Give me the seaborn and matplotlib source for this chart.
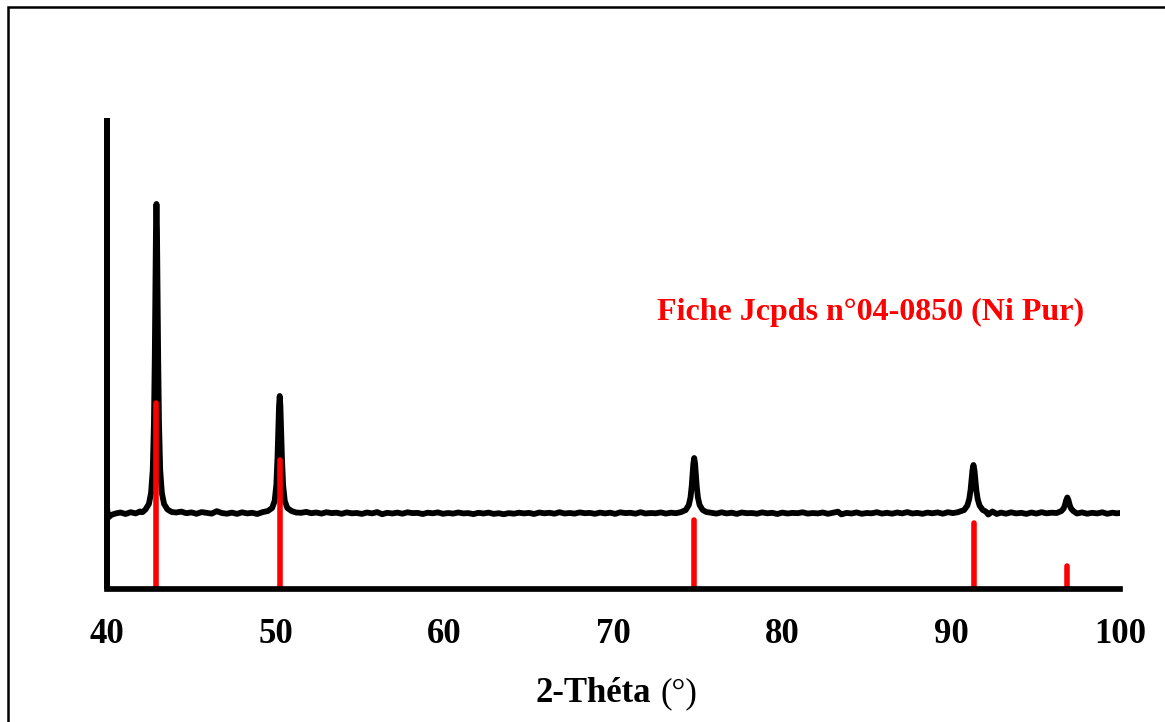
import matplotlib
matplotlib.use("Agg")
import matplotlib.pyplot as plt
import seaborn as sns
import pandas as pd
from matplotlib.patches import Rectangle

# Measured diffraction pattern (2-theta in degrees, intensity in a.u.)
pattern_2theta = [
    40.00, 40.08, 40.25, 40.50, 40.80, 41.10, 41.40, 41.70, 41.95, 42.10,
    42.28, 42.48, 42.61, 42.71, 42.78, 42.83, 42.87, 42.90, 42.93, 42.96,
    42.99, 43.03, 43.08, 43.15, 43.25, 43.38, 43.58, 43.83, 44.10, 44.40,
    44.70, 45.00, 45.30, 45.60, 45.90, 46.20, 46.50, 46.80, 47.10, 47.40,
    47.70, 48.00, 48.30, 48.60, 48.90, 49.20, 49.53, 49.78, 49.93, 50.03,
    50.10, 50.15, 50.19, 50.23, 50.27, 50.31, 50.36, 50.43, 50.53, 50.68,
    50.93, 51.20, 51.50, 51.80, 52.10, 52.40, 52.70, 53.00, 53.30, 53.60,
    53.90, 54.20, 54.50, 54.80, 55.10, 55.40, 55.70, 56.00, 56.30, 56.60,
    56.90, 57.20, 57.50, 57.80, 58.10, 58.40, 58.70, 59.00, 59.30, 59.60,
    59.90, 60.20, 60.50, 60.80, 61.10, 61.40, 61.70, 62.00, 62.30, 62.60,
    62.90, 63.20, 63.50, 63.80, 64.10, 64.40, 64.70, 65.00, 65.30, 65.60,
    65.90, 66.20, 66.50, 66.80, 67.10, 67.40, 67.70, 68.00, 68.30, 68.60,
    68.90, 69.20, 69.50, 69.80, 70.10, 70.40, 70.70, 71.00, 71.30, 71.60,
    71.90, 72.20, 72.50, 72.80, 73.10, 73.40, 73.70, 74.00, 74.28, 74.46,
    74.56, 74.63, 74.68, 74.73, 74.78, 74.83, 74.88, 74.93, 75.00, 75.10,
    75.28, 75.50, 75.80, 76.10, 76.40, 76.70, 77.00, 77.30, 77.60, 77.90,
    78.20, 78.50, 78.80, 79.10, 79.40, 79.70, 80.00, 80.30, 80.60, 80.90,
    81.20, 81.50, 81.80, 82.10, 82.40, 82.70, 83.00, 83.30, 83.50, 83.80,
    84.10, 84.40, 84.70, 85.00, 85.30, 85.60, 85.90, 86.20, 86.50, 86.80,
    87.10, 87.40, 87.70, 88.00, 88.30, 88.60, 88.90, 89.20, 89.50, 89.80,
    90.10, 90.40, 90.77, 90.96, 91.07, 91.15, 91.21, 91.26, 91.32, 91.38,
    91.43, 91.49, 91.57, 91.68, 91.87, 92.05, 92.20, 92.45, 92.70, 92.95,
    93.25, 93.55, 93.85, 94.15, 94.45, 94.75, 95.05, 95.35, 95.65, 95.95,
    96.25, 96.53, 96.66, 96.74, 96.81, 96.88, 96.95, 97.02, 97.10, 97.23,
    97.45, 97.75, 98.05, 98.35, 98.65, 98.95, 99.25, 99.55, 99.80, 100.00,
]
pattern_counts = [
    81.0, 71.5, 74.0, 75.5, 76.5, 75.0, 76.8, 75.6, 77.5, 76.8,
    79.5, 85.0, 96.0, 119.0, 165.0, 231.0, 303.0, 359.0, 385.0, 359.0,
    303.0, 231.0, 165.0, 119.0, 96.0, 85.0, 79.5, 77.0, 76.5, 77.4,
    75.8, 76.6, 75.2, 76.9, 76.1, 75.4, 77.8, 76.0, 75.3, 76.4,
    75.1, 76.7, 75.6, 76.2, 75.0, 76.8, 78.0, 81.0, 88.0, 104.0,
    132.0, 161.0, 183.0, 193.0, 183.0, 161.0, 132.0, 104.0, 88.0, 81.0,
    78.0, 76.5, 76.2, 77.1, 75.8, 76.5, 75.4, 76.8, 75.9, 76.3,
    75.2, 76.6, 75.7, 76.0, 75.1, 76.5, 75.6, 76.9, 74.8, 76.2,
    75.5, 76.4, 75.3, 76.7, 75.9, 76.1, 75.0, 76.3, 75.7, 76.6,
    75.2, 76.0, 75.4, 76.5, 75.6, 75.9, 74.9, 76.2, 75.5, 76.4,
    75.1, 75.8, 74.8, 75.9, 75.3, 76.3, 75.6, 76.1, 75.0, 76.5,
    75.7, 76.2, 75.3, 76.8, 75.5, 76.0, 75.4, 76.6, 75.8, 76.1,
    75.2, 76.4, 75.6, 76.3, 75.1, 76.7, 75.9, 76.2, 75.3, 76.8,
    75.5, 76.0, 75.7, 76.6, 75.4, 76.3, 75.8, 76.9, 79.0, 84.0,
    91.5, 102.5, 114.0, 125.5, 131.0, 125.5, 114.0, 102.5, 91.5, 84.0,
    79.0, 77.0, 76.2, 75.4, 76.7, 75.6, 76.3, 75.1, 76.5, 75.8,
    76.0, 75.3, 76.6, 75.7, 76.2, 75.0, 76.4, 75.5, 76.1, 75.8,
    76.7, 75.4, 76.0, 75.6, 76.5, 75.2, 76.3, 77.3, 74.6, 76.1,
    75.5, 76.6, 75.2, 76.0, 75.7, 76.8, 75.4, 76.2, 75.3, 76.5,
    75.6, 76.9, 75.5, 76.1, 75.2, 76.4, 75.7, 76.6, 75.3, 76.8,
    75.9, 76.8, 79.0, 83.5, 90.0, 99.0, 109.8, 118.7, 124.0, 118.7,
    109.8, 99.0, 90.0, 83.5, 79.0, 77.5, 74.5, 77.5, 75.0, 76.4,
    75.3, 76.7, 75.6, 76.2, 75.1, 76.5, 75.4, 76.8, 75.7, 76.3,
    76.0, 78.0, 80.5, 84.0, 88.7, 91.5, 88.7, 84.0, 80.5, 78.0,
    75.5, 76.6, 75.3, 76.2, 75.6, 76.7, 75.2, 76.3, 75.7, 76.0,
]

# Reference lines, JCPDS card 04-0850 (pure Ni)
ref_2theta = [42.93, 50.22, 74.79, 91.35, 96.88]
ref_intensity = [186, 129, 69, 66, 23]

tick_values = [40, 50, 60, 70, 80, 90, 100]
tick_labels = ["40", "50", "60", "70", "80", "90", "100"]

card_label = "Fiche Jcpds n°04-0850 (Ni Pur)"

sns.set_style("white")
plt.rcParams["font.family"] = ["Liberation Serif", "DejaVu Serif"]
plt.rcParams["text.color"] = "black"

W, H = 1165, 722
fig = plt.figure(figsize=(W / 100, H / 100), dpi=100)
ax = fig.add_axes([107 / W, 1 - 589 / H, 1013 / W, 471 / H])

df = pd.DataFrame({"two_theta": pattern_2theta, "intensity": pattern_counts})
sns.lineplot(data=df, x="two_theta", y="intensity", color="black",
             linewidth=4.2, estimator=None, ax=ax, zorder=2.1)

sticks = ax.vlines(ref_2theta, 0, ref_intensity, colors="#ff0000",
                   linewidth=4.0, zorder=2.3)
sticks.set_capstyle("round")

ax.set_xlim(40, 100)
ax.set_ylim(0, 471)
ax.set_xticks(tick_values)
ax.set_xticklabels(tick_labels, fontsize=25, fontweight="bold", color="black")
ax.set_yticks([])
ax.set_xlabel("")
ax.set_ylabel("")
for side in ["top", "right"]:
    ax.spines[side].set_visible(False)
for side, lw, cap in [("left", 4.3, "butt"), ("bottom", 4.1, "projecting")]:
    ax.spines[side].set_linewidth(lw)
    ax.spines[side].set_color("black")
    ax.spines[side].set_capstyle(cap)
ax.tick_params(axis="x", direction="inout", length=14, width=3.6, pad=14,
               color="black", labelcolor="black")

# Axis title: bold name, regular unit
fig.text(651 / W, 1 - 702 / H, "2-Théta", fontsize=25, fontweight="bold",
         color="black", ha="right", va="baseline")
fig.text(661 / W, 1 - 702 / H, "(°)", fontsize=25, fontweight="normal",
         color="black", ha="left", va="baseline")

fig.text(871 / W, 1 - 320 / H, card_label, fontsize=23, fontweight="bold",
         color="#ff0000", ha="center", va="baseline")

# Outer frame
fig.add_artist(Rectangle((8 / W, -0.05), 1.1, 1 - 7 / H + 0.05,
                         transform=fig.transFigure, fill=False,
                         edgecolor="black", linewidth=1.8))

fig.savefig("out.png", dpi=100)
